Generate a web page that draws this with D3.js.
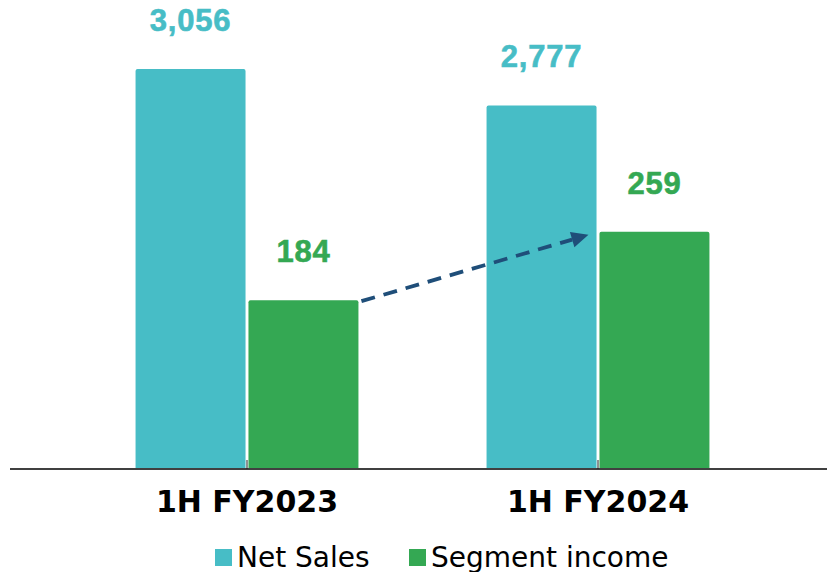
<!DOCTYPE html>
<html>
<head>
<meta charset="utf-8">
<script src="https://cdn.jsdelivr.net/npm/d3@7"></script>
<style>
  html, body { margin: 0; padding: 0; background: #fff; }
  svg { display: block; }
</style>
</head>
<body>
<svg id="chart" width="827" height="572"></svg>
<script>
// Data
const periods = ['1H FY2023', '1H FY2024'];
const seriesNames = ['Net Sales', 'Segment income'];
const netSales = [3056, 2777];
const segmentIncome = [184, 259];

const TEAL = '#47bdc6';
const GREEN = '#34a853';
const NAVY = '#1f4e79';

const svg = d3.select('#chart');
const BASE_Y = 468;

// group scale
const x = d3.scaleBand()
    .domain(periods)
    .range([71.5, 773.5])
    .paddingInner(0.365)
    .paddingOuter(0.1825);

const xSub = d3.scaleBand()
    .domain(seriesNames)
    .range([0, x.bandwidth()])
    .paddingInner(0.026);

// two hidden value axes (one per series)
const yNet = d3.scaleLinear().domain([0, 3500]).range([BASE_Y, 11]);
const ySeg = d3.scaleLinear().domain([0, 500]).range([BASE_Y, 12]);

const series = [
    { name: seriesNames[0], values: netSales, y: yNet, color: TEAL },
    { name: seriesNames[1], values: segmentIncome, y: ySeg, color: GREEN }
];

const fmt = d3.format(',');

// bars + labels
series.forEach(s => {
    const g = svg.append('g');
    g.selectAll('path.bar')
        .data(periods)
        .enter()
        .append('path')
        .attr('class', 'bar')
        .attr('fill', s.color)
        .attr('d', (p, i) => {
            const x0 = x(p) + xSub(s.name);
            const w = xSub.bandwidth();
            const top = s.y(s.values[i]);
            const r = 2;
            return `M${x0},${BASE_Y}V${top + r}Q${x0},${top} ${x0 + r},${top}` +
                `H${x0 + w - r}Q${x0 + w},${top} ${x0 + w},${top + r}V${BASE_Y}Z`;
        });

    g.selectAll('text.val')
        .data(periods)
        .enter()
        .append('text')
        .attr('class', 'val')
        .attr('x', p => x(p) + xSub(s.name) + xSub.bandwidth() / 2)
        .attr('y', (p, i) => s.y(s.values[i]) - 38)
        .attr('text-anchor', 'middle')
        .attr('font-family', '"Liberation Sans", Arial, sans-serif')
        .attr('font-weight', 'bold')
        .attr('font-size', 31)
        .attr('letter-spacing', 0.8)
        .attr('fill', s.color)
        .attr('stroke', s.color)
        .attr('stroke-width', 0.6)
        .text((p, i) => fmt(s.values[i]));
});

// axis baseline + ticks
svg.append('line')
    .attr('x1', 10).attr('x2', 827)
    .attr('y1', BASE_Y + 1).attr('y2', BASE_Y + 1)
    .attr('stroke', '#000').attr('stroke-width', 1.5);

svg.selectAll('line.tick')
    .data(periods)
    .enter()
    .append('line')
    .attr('class', 'tick')
    .attr('x1', p => x(p) + x.bandwidth() / 2)
    .attr('x2', p => x(p) + x.bandwidth() / 2)
    .attr('y1', BASE_Y - 8).attr('y2', BASE_Y + 1)
    .attr('stroke', '#222').attr('stroke-width', 1);

svg.selectAll('text.cat')
    .data(periods)
    .enter()
    .append('text')
    .attr('class', 'cat')
    .attr('x', p => x(p) + x.bandwidth() / 2)
    .attr('y', 512)
    .attr('text-anchor', 'middle')
    .attr('font-family', '"DejaVu Sans", Verdana, sans-serif')
    .attr('font-weight', 'bold')
    .attr('font-size', 30)
    .attr('fill', '#000')
    .text(d => d);

// dashed growth arrow between segment income bars
const segX = i => x(periods[i]) + xSub(seriesNames[1]);
const ax1 = segX(0) + xSub.bandwidth() + 3;
const ay1 = ySeg(segmentIncome[0]) + 1;
const ax2 = segX(1) - 11;
const ay2 = ySeg(segmentIncome[1]) + 3;
const ang = Math.atan2(ay2 - ay1, ax2 - ax1);
const headLen = 17, headW = 8;
const lx = ax2 - headLen * Math.cos(ang);
const ly = ay2 - headLen * Math.sin(ang);

svg.append('line')
    .attr('x1', ax1).attr('y1', ay1)
    .attr('x2', lx).attr('y2', ly)
    .attr('stroke', NAVY)
    .attr('stroke-width', 3.8)
    .attr('stroke-dasharray', '14,9');

svg.append('path')
    .attr('fill', NAVY)
    .attr('d', d3.line()([
        [ax2, ay2],
        [lx + headW * Math.sin(ang), ly - headW * Math.cos(ang)],
        [lx - headW * Math.sin(ang), ly + headW * Math.cos(ang)]
    ]) + 'Z');

// legend
const legend = svg.append('g');
const legendItems = [
    { name: seriesNames[0], color: TEAL, x: 215 },
    { name: seriesNames[1], color: GREEN, x: 409 }
];
legendItems.forEach(it => {
    legend.append('rect')
        .attr('x', it.x).attr('y', 549)
        .attr('width', 17).attr('height', 17)
        .attr('fill', it.color);
    legend.append('text')
        .attr('x', it.x + 22).attr('y', 567)
        .attr('font-family', '"DejaVu Sans", Verdana, sans-serif')
        .attr('font-size', 28)
        .attr('fill', '#000')
        .text(it.name);
});
</script>
</body>
</html>
